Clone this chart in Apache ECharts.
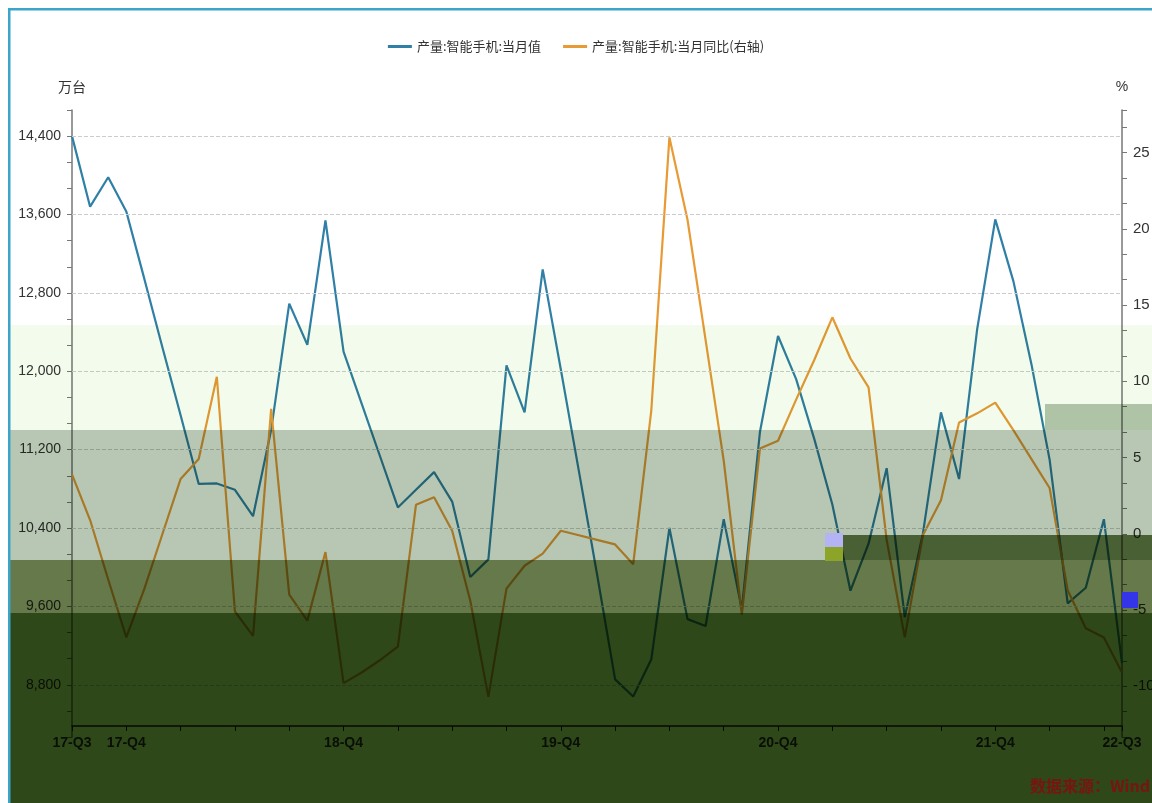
<!DOCTYPE html>
<html>
<head>
<meta charset="utf-8">
<script src="https://cdn.jsdelivr.net/npm/echarts@6/dist/echarts.min.js"></script>
<style>
html,body{margin:0;padding:0;background:#fff;}
#chart{width:1152px;height:803px;}
</style>
</head>
<body>
<div id="chart"></div>
<script>
const months = ['2017-09','2017-10','2017-11','2017-12','2018-01','2018-02','2018-03','2018-04','2018-05','2018-06','2018-07','2018-08','2018-09','2018-10','2018-11','2018-12','2019-01','2019-02','2019-03','2019-04','2019-05','2019-06','2019-07','2019-08','2019-09','2019-10','2019-11','2019-12','2020-01','2020-02','2020-03','2020-04','2020-05','2020-06','2020-07','2020-08','2020-09','2020-10','2020-11','2020-12','2021-01','2021-02','2021-03','2021-04','2021-05','2021-06','2021-07','2021-08','2021-09','2021-10','2021-11','2021-12','2022-01','2022-02','2022-03','2022-04','2022-05','2022-06','2022-07'];
const xTickLabels = {'2017-09':'17-Q3','2017-12':'17-Q4','2018-12':'18-Q4','2019-12':'19-Q4','2020-12':'20-Q4','2021-12':'21-Q4','2022-07':'22-Q3'};
const monthlyOutput = [14400,13680,13980,13630,12940,12240,11550,10850,10855,10790,10520,11400,12690,12270,13540,12200,11670,11140,10610,10790,10970,10670,9900,10080,12060,11580,13040,12020,10980,9930,8855,8680,9060,10400,9470,9400,10490,9570,11380,12360,11920,11310,10640,9760,10240,11010,9490,10340,11580,10900,12430,13550,12920,12070,11100,9630,9790,10490,9020];
const yoyGrowth = [3.9,0.9,-3.0,-6.8,-3.6,0.0,3.6,4.9,10.3,-5.1,-6.7,8.2,-4.0,-5.7,-1.2,-9.8,-9.1,-8.3,-7.4,1.9,2.4,0.2,-4.4,-10.7,-3.6,-2.1,-1.3,0.2,-0.1,-0.4,-0.7,-2.0,8.1,26.0,20.6,12.7,4.8,-5.3,5.6,6.1,8.8,11.4,14.2,11.5,9.6,-0.4,-6.8,-0.1,2.2,7.3,7.9,8.6,6.8,4.9,3.0,-3.7,-6.2,-6.8,-9.1];
const leftGridValues = [8800,9600,10400,11200,12000,12800,13600,14400];
const seriesNames = ['产量:智能手机:当月值','产量:智能手机:当月同比(右轴)'];

const LI = 800/3, RI = 5/3;
const chart = echarts.init(document.getElementById('chart'));
const numFmt = v => v.toString().replace(/\B(?=(\d{3})+(?!\d))/g, ',');
const isMult = (v, m) => Math.abs(v/m - Math.round(v/m)) < 1e-6;

function band(x, y, w, h, fill) {
  return {type:'rect', silent:true, z:100, shape:{x, y, width:w, height:h}, style:{fill, blend:'multiply'}};
}

chart.setOption({
  animation:false,
  backgroundColor:'#fff',
  textStyle:{fontFamily:'Liberation Sans, Noto Sans CJK SC, sans-serif'},
  legend:{
    top:35, left:'center', icon:'rect', itemWidth:24, itemHeight:3, itemGap:22,
    textStyle:{fontSize:13, color:'#333', fontFamily:'Noto Sans CJK SC'},
    data:seriesNames
  },
  grid:{left:72, right:30, top:110, bottom:66, containLabel:false, outerBoundsMode:'none'},
  xAxis:{
    type:'category', data:months, boundaryGap:false, offset:-11,
    axisLine:{onZero:false, lineStyle:{color:'#222', width:1.5}},
    axisTick:{interval:(i)=> i%3===0 || i===months.length-1, length:5, lineStyle:{color:'#222'}},
    axisLabel:{interval:0, margin:10, fontSize:14, fontWeight:'bold', color:'#333',
      fontFamily:'Liberation Sans', formatter:(v)=> xTickLabels[v] || ''},
    splitLine:{show:false}
  },
  yAxis:[{
    type:'value', min:31*LI, max:55*LI, interval:LI,
    name:'万台', nameGap:16, nameTextStyle:{color:'#333', fontSize:14, fontFamily:'Noto Sans CJK SC', align:'center'},
    axisLine:{show:true, lineStyle:{color:'#777', width:1.5}},
    axisTick:{show:true, length:5, lineStyle:{color:'#777'}},
    axisLabel:{fontSize:14, color:'#333', margin:11, fontFamily:'Liberation Sans',
      formatter:(v)=> isMult(v,800) ? numFmt(Math.round(v)) : ''},
    splitLine:{show:false}
  },{
    type:'value', min:-8*RI, max:27.8, interval:RI, position:'right',
    name:'%', nameGap:16, nameTextStyle:{color:'#333', fontSize:14, align:'center'},
    axisLine:{show:true, lineStyle:{color:'#777', width:1.5}},
    axisTick:{show:true, length:5, lineStyle:{color:'#777'}},
    axisLabel:{fontSize:15, color:'#333', margin:11, fontFamily:'Liberation Sans',
      formatter:(v)=> (isMult(v,5) && v < 27.5) ? String(Math.round(v)) : ''},
    splitLine:{show:false}
  }],
  series:[{
    name:seriesNames[0], type:'line', yAxisIndex:0, data:monthlyOutput,
    symbol:'none', lineStyle:{width:2.2, color:'#2f7fa6'}, itemStyle:{color:'#2f7fa6'},
    markLine:{silent:true, symbol:'none', label:{show:false},
      lineStyle:{type:'dashed', color:'#cccccc', width:1},
      data:leftGridValues.map(v=>({yAxis:v}))}
  },{
    name:seriesNames[1], type:'line', yAxisIndex:1, data:yoyGrowth,
    symbol:'none', lineStyle:{width:2.2, color:'#e89a35'}, itemStyle:{color:'#e89a35'}
  }],
  graphic:[
    band(10, 325, 1142, 105, '#f3fbec'),
    band(1045, 404, 107, 26, '#b8c7b3'),
    band(10, 430, 1142, 130, '#b8c7b3'),
    band(843, 535, 309, 25, '#65794a'),
    band(10, 560, 1142, 53, '#65794a'),
    band(10, 613, 1142, 190, '#2e4819'),
    {type:'rect', silent:true, z:110, shape:{x:825, y:533, width:18, height:14}, style:{fill:'#b4b4f4'}},
    {type:'rect', silent:true, z:110, shape:{x:825, y:547, width:18, height:14}, style:{fill:'#8ca428'}},
    {type:'rect', silent:true, z:110, shape:{x:1122, y:592, width:16, height:16}, style:{fill:'#3434e8'}},
    {type:'rect', silent:true, z:120, shape:{x:8, y:8, width:1144, height:2.5}, style:{fill:'#3aa5c8'}},
    {type:'rect', silent:true, z:120, shape:{x:8, y:8, width:2.5, height:795}, style:{fill:'#3aa5c8'}},
    {type:'text', silent:true, z:120, right:2, top:778,
      style:{text:'数据来源：Wind', fill:'#7a1410', font:'bold 16px "Noto Sans CJK SC"'}}
  ]
});
</script>
</body>
</html>
